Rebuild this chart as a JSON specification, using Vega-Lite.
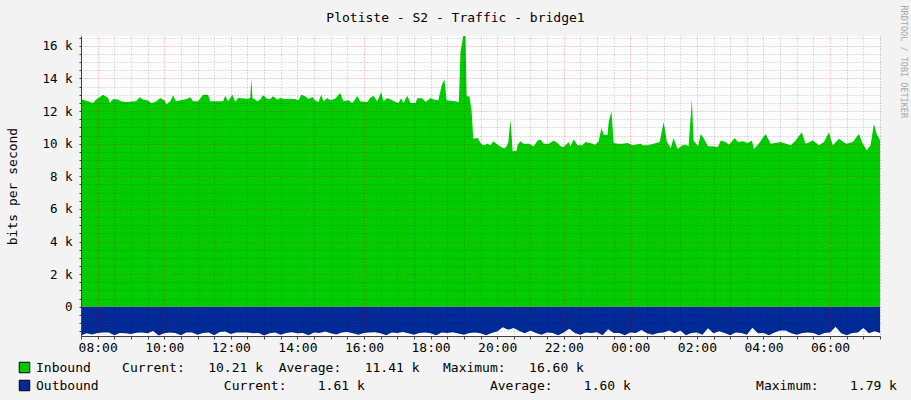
{
  "$schema": "https://vega.github.io/schema/vega-lite/v6.json",
  "width": 799,
  "height": 300,
  "autosize": {"type": "none"},
  "padding": {"left": 81, "top": 36, "right": 31, "bottom": 64},
  "background": "#F3F3F3",
  "title": {
    "text": "Plotiste - S2 - Traffic - bridge1",
    "font": "DejaVu Sans Mono",
    "fontSize": 13,
    "fontWeight": "normal",
    "color": "black",
    "anchor": "middle",
    "baseline": "bottom",
    "dx": -25,
    "dy": 47,
    "offset": 14
  },
  "datasets": {
    "inbound": [
      {"time": "2024-01-01T07:30", "value": 12.74},
      {"time": "2024-01-01T07:52", "value": 12.5},
      {"time": "2024-01-01T07:57", "value": 12.7},
      {"time": "2024-01-01T08:10", "value": 13.0},
      {"time": "2024-01-01T08:19", "value": 12.8},
      {"time": "2024-01-01T08:22", "value": 12.5},
      {"time": "2024-01-01T08:28", "value": 12.74},
      {"time": "2024-01-01T08:37", "value": 12.7},
      {"time": "2024-01-01T08:42", "value": 12.6},
      {"time": "2024-01-01T08:51", "value": 12.55},
      {"time": "2024-01-01T09:00", "value": 12.58},
      {"time": "2024-01-01T09:09", "value": 12.6},
      {"time": "2024-01-01T09:16", "value": 12.84},
      {"time": "2024-01-01T09:22", "value": 12.7},
      {"time": "2024-01-01T09:31", "value": 12.65},
      {"time": "2024-01-01T09:36", "value": 12.5},
      {"time": "2024-01-01T09:44", "value": 12.55},
      {"time": "2024-01-01T09:53", "value": 12.8},
      {"time": "2024-01-01T10:02", "value": 12.62},
      {"time": "2024-01-01T10:03", "value": 12.4},
      {"time": "2024-01-01T10:11", "value": 12.6},
      {"time": "2024-01-01T10:16", "value": 12.97},
      {"time": "2024-01-01T10:21", "value": 12.6},
      {"time": "2024-01-01T10:40", "value": 12.74},
      {"time": "2024-01-01T10:47", "value": 12.84},
      {"time": "2024-01-01T10:52", "value": 12.6},
      {"time": "2024-01-01T11:01", "value": 12.6},
      {"time": "2024-01-01T11:10", "value": 13.0},
      {"time": "2024-01-01T11:19", "value": 13.0},
      {"time": "2024-01-01T11:23", "value": 12.6},
      {"time": "2024-01-01T11:34", "value": 12.6},
      {"time": "2024-01-01T11:46", "value": 12.6},
      {"time": "2024-01-01T11:50", "value": 12.94},
      {"time": "2024-01-01T11:55", "value": 12.6},
      {"time": "2024-01-01T12:03", "value": 13.0},
      {"time": "2024-01-01T12:08", "value": 12.55},
      {"time": "2024-01-01T12:13", "value": 12.8},
      {"time": "2024-01-01T12:31", "value": 12.76},
      {"time": "2024-01-01T12:35", "value": 12.8},
      {"time": "2024-01-01T12:37", "value": 14.0},
      {"time": "2024-01-01T12:39", "value": 12.8},
      {"time": "2024-01-01T12:48", "value": 12.6},
      {"time": "2024-01-01T12:53", "value": 12.7},
      {"time": "2024-01-01T12:58", "value": 12.97},
      {"time": "2024-01-01T13:06", "value": 12.74},
      {"time": "2024-01-01T13:11", "value": 12.74},
      {"time": "2024-01-01T13:16", "value": 12.9},
      {"time": "2024-01-01T13:24", "value": 12.7},
      {"time": "2024-01-01T13:29", "value": 12.8},
      {"time": "2024-01-01T13:38", "value": 12.74},
      {"time": "2024-01-01T13:47", "value": 12.76},
      {"time": "2024-01-01T13:56", "value": 12.74},
      {"time": "2024-01-01T14:02", "value": 12.66},
      {"time": "2024-01-01T14:07", "value": 13.0},
      {"time": "2024-01-01T14:14", "value": 12.9},
      {"time": "2024-01-01T14:20", "value": 12.74},
      {"time": "2024-01-01T14:27", "value": 12.86},
      {"time": "2024-01-01T14:32", "value": 12.66},
      {"time": "2024-01-01T14:38", "value": 12.55},
      {"time": "2024-01-01T14:43", "value": 13.0},
      {"time": "2024-01-01T14:47", "value": 12.6},
      {"time": "2024-01-01T14:54", "value": 12.8},
      {"time": "2024-01-01T14:59", "value": 12.66},
      {"time": "2024-01-01T15:08", "value": 12.76},
      {"time": "2024-01-01T15:17", "value": 13.1},
      {"time": "2024-01-01T15:23", "value": 12.6},
      {"time": "2024-01-01T15:32", "value": 12.66},
      {"time": "2024-01-01T15:39", "value": 12.5},
      {"time": "2024-01-01T15:44", "value": 12.7},
      {"time": "2024-01-01T15:48", "value": 12.94},
      {"time": "2024-01-01T15:53", "value": 12.6},
      {"time": "2024-01-01T16:06", "value": 12.55},
      {"time": "2024-01-01T16:11", "value": 12.8},
      {"time": "2024-01-01T16:17", "value": 12.94},
      {"time": "2024-01-01T16:24", "value": 12.6},
      {"time": "2024-01-01T16:31", "value": 13.15},
      {"time": "2024-01-01T16:35", "value": 12.6},
      {"time": "2024-01-01T16:42", "value": 12.8},
      {"time": "2024-01-01T16:48", "value": 12.7},
      {"time": "2024-01-01T16:57", "value": 12.55},
      {"time": "2024-01-01T17:02", "value": 12.5},
      {"time": "2024-01-01T17:07", "value": 12.78},
      {"time": "2024-01-01T17:11", "value": 12.5},
      {"time": "2024-01-01T17:18", "value": 12.94},
      {"time": "2024-01-01T17:24", "value": 12.5},
      {"time": "2024-01-01T17:33", "value": 12.5},
      {"time": "2024-01-01T17:36", "value": 12.78},
      {"time": "2024-01-01T17:45", "value": 12.78},
      {"time": "2024-01-01T17:51", "value": 12.55},
      {"time": "2024-01-01T18:00", "value": 12.8},
      {"time": "2024-01-01T18:05", "value": 12.7},
      {"time": "2024-01-01T18:14", "value": 12.66},
      {"time": "2024-01-01T18:20", "value": 13.56},
      {"time": "2024-01-01T18:25", "value": 13.93},
      {"time": "2024-01-01T18:29", "value": 12.66},
      {"time": "2024-01-01T18:45", "value": 12.6},
      {"time": "2024-01-01T18:51", "value": 12.55},
      {"time": "2024-01-01T18:54", "value": 15.66},
      {"time": "2024-01-01T18:59", "value": 16.6},
      {"time": "2024-01-01T19:03", "value": 16.6},
      {"time": "2024-01-01T19:05", "value": 12.9},
      {"time": "2024-01-01T19:10", "value": 12.9},
      {"time": "2024-01-01T19:14", "value": 12.0},
      {"time": "2024-01-01T19:17", "value": 10.3},
      {"time": "2024-01-01T19:25", "value": 10.35},
      {"time": "2024-01-01T19:30", "value": 10.04},
      {"time": "2024-01-01T19:35", "value": 9.9},
      {"time": "2024-01-01T19:43", "value": 10.0},
      {"time": "2024-01-01T19:48", "value": 9.9},
      {"time": "2024-01-01T19:53", "value": 10.15},
      {"time": "2024-01-01T20:01", "value": 9.94},
      {"time": "2024-01-01T20:10", "value": 9.73},
      {"time": "2024-01-01T20:15", "value": 9.75},
      {"time": "2024-01-01T20:20", "value": 10.04},
      {"time": "2024-01-01T20:24", "value": 11.47},
      {"time": "2024-01-01T20:28", "value": 9.53},
      {"time": "2024-01-01T20:35", "value": 9.55},
      {"time": "2024-01-01T20:37", "value": 9.94},
      {"time": "2024-01-01T20:42", "value": 10.15},
      {"time": "2024-01-01T20:48", "value": 10.0},
      {"time": "2024-01-01T20:57", "value": 10.0},
      {"time": "2024-01-01T21:06", "value": 9.84},
      {"time": "2024-01-01T21:13", "value": 10.2},
      {"time": "2024-01-01T21:18", "value": 10.25},
      {"time": "2024-01-01T21:24", "value": 10.0},
      {"time": "2024-01-01T21:33", "value": 10.0},
      {"time": "2024-01-01T21:42", "value": 10.2},
      {"time": "2024-01-01T21:49", "value": 10.04},
      {"time": "2024-01-01T21:54", "value": 9.84},
      {"time": "2024-01-01T22:00", "value": 9.8},
      {"time": "2024-01-01T22:09", "value": 10.1},
      {"time": "2024-01-01T22:12", "value": 9.84},
      {"time": "2024-01-01T22:18", "value": 10.25},
      {"time": "2024-01-01T22:25", "value": 9.9},
      {"time": "2024-01-01T22:34", "value": 9.9},
      {"time": "2024-01-01T22:39", "value": 10.1},
      {"time": "2024-01-01T22:48", "value": 10.04},
      {"time": "2024-01-01T22:57", "value": 9.94},
      {"time": "2024-01-01T23:03", "value": 10.15},
      {"time": "2024-01-01T23:08", "value": 10.96},
      {"time": "2024-01-01T23:12", "value": 10.55},
      {"time": "2024-01-01T23:19", "value": 10.55},
      {"time": "2024-01-01T23:21", "value": 11.3},
      {"time": "2024-01-01T23:26", "value": 12.0},
      {"time": "2024-01-01T23:30", "value": 10.04},
      {"time": "2024-01-01T23:37", "value": 10.0},
      {"time": "2024-01-01T23:46", "value": 10.0},
      {"time": "2024-01-01T23:55", "value": 10.04},
      {"time": "2024-01-02T00:04", "value": 9.9},
      {"time": "2024-01-02T00:19", "value": 10.0},
      {"time": "2024-01-02T00:22", "value": 9.9},
      {"time": "2024-01-02T00:31", "value": 9.9},
      {"time": "2024-01-02T00:42", "value": 10.0},
      {"time": "2024-01-02T00:53", "value": 10.1},
      {"time": "2024-01-02T01:00", "value": 11.33},
      {"time": "2024-01-02T01:06", "value": 10.1},
      {"time": "2024-01-02T01:13", "value": 9.73},
      {"time": "2024-01-02T01:18", "value": 10.35},
      {"time": "2024-01-02T01:25", "value": 9.68},
      {"time": "2024-01-02T01:34", "value": 9.9},
      {"time": "2024-01-02T01:40", "value": 9.94},
      {"time": "2024-01-02T01:45", "value": 9.84},
      {"time": "2024-01-02T01:51", "value": 12.7},
      {"time": "2024-01-02T01:54", "value": 10.2},
      {"time": "2024-01-02T02:02", "value": 9.84},
      {"time": "2024-01-02T02:07", "value": 10.6},
      {"time": "2024-01-02T02:12", "value": 10.35},
      {"time": "2024-01-02T02:20", "value": 9.84},
      {"time": "2024-01-02T02:29", "value": 9.84},
      {"time": "2024-01-02T02:38", "value": 9.8},
      {"time": "2024-01-02T02:43", "value": 10.2},
      {"time": "2024-01-02T02:52", "value": 10.1},
      {"time": "2024-01-02T02:58", "value": 9.94},
      {"time": "2024-01-02T03:08", "value": 10.35},
      {"time": "2024-01-02T03:14", "value": 10.1},
      {"time": "2024-01-02T03:23", "value": 10.15},
      {"time": "2024-01-02T03:32", "value": 10.04},
      {"time": "2024-01-02T03:39", "value": 10.2},
      {"time": "2024-01-02T03:43", "value": 9.68},
      {"time": "2024-01-02T03:50", "value": 9.94},
      {"time": "2024-01-02T04:04", "value": 10.6},
      {"time": "2024-01-02T04:13", "value": 10.0},
      {"time": "2024-01-02T04:31", "value": 10.1},
      {"time": "2024-01-02T04:49", "value": 9.9},
      {"time": "2024-01-02T04:58", "value": 10.2},
      {"time": "2024-01-02T05:09", "value": 10.7},
      {"time": "2024-01-02T05:16", "value": 10.0},
      {"time": "2024-01-02T05:29", "value": 10.2},
      {"time": "2024-01-02T05:40", "value": 9.9},
      {"time": "2024-01-02T05:49", "value": 10.1},
      {"time": "2024-01-02T05:58", "value": 10.7},
      {"time": "2024-01-02T06:05", "value": 9.9},
      {"time": "2024-01-02T06:16", "value": 10.3},
      {"time": "2024-01-02T06:29", "value": 10.0},
      {"time": "2024-01-02T06:41", "value": 10.1},
      {"time": "2024-01-02T06:52", "value": 10.6},
      {"time": "2024-01-02T06:59", "value": 10.0},
      {"time": "2024-01-02T07:06", "value": 9.6},
      {"time": "2024-01-02T07:13", "value": 9.9},
      {"time": "2024-01-02T07:19", "value": 11.2},
      {"time": "2024-01-02T07:24", "value": 10.6},
      {"time": "2024-01-02T07:30", "value": 10.21}
    ],
    "outbound": [
      {"time": "2024-01-01T07:30", "value": -1.76},
      {"time": "2024-01-01T07:40", "value": -1.62},
      {"time": "2024-01-01T07:50", "value": -1.70},
      {"time": "2024-01-01T08:00", "value": -1.60},
      {"time": "2024-01-01T08:10", "value": -1.57},
      {"time": "2024-01-01T08:20", "value": -1.58},
      {"time": "2024-01-01T08:30", "value": -1.74},
      {"time": "2024-01-01T08:40", "value": -1.60},
      {"time": "2024-01-01T08:50", "value": -1.62},
      {"time": "2024-01-01T09:00", "value": -1.66},
      {"time": "2024-01-01T09:10", "value": -1.59},
      {"time": "2024-01-01T09:20", "value": -1.58},
      {"time": "2024-01-01T09:30", "value": -1.62},
      {"time": "2024-01-01T09:40", "value": -1.48},
      {"time": "2024-01-01T09:50", "value": -1.76},
      {"time": "2024-01-01T10:00", "value": -1.62},
      {"time": "2024-01-01T10:10", "value": -1.58},
      {"time": "2024-01-01T10:20", "value": -1.60},
      {"time": "2024-01-01T10:30", "value": -1.74},
      {"time": "2024-01-01T10:40", "value": -1.58},
      {"time": "2024-01-01T10:50", "value": -1.58},
      {"time": "2024-01-01T11:00", "value": -1.72},
      {"time": "2024-01-01T11:10", "value": -1.60},
      {"time": "2024-01-01T11:20", "value": -1.58},
      {"time": "2024-01-01T11:30", "value": -1.74},
      {"time": "2024-01-01T11:40", "value": -1.55},
      {"time": "2024-01-01T11:50", "value": -1.52},
      {"time": "2024-01-01T12:00", "value": -1.66},
      {"time": "2024-01-01T12:10", "value": -1.58},
      {"time": "2024-01-01T12:20", "value": -1.58},
      {"time": "2024-01-01T12:30", "value": -1.57},
      {"time": "2024-01-01T12:40", "value": -1.62},
      {"time": "2024-01-01T12:50", "value": -1.60},
      {"time": "2024-01-01T13:00", "value": -1.76},
      {"time": "2024-01-01T13:10", "value": -1.62},
      {"time": "2024-01-01T13:20", "value": -1.58},
      {"time": "2024-01-01T13:30", "value": -1.72},
      {"time": "2024-01-01T13:40", "value": -1.60},
      {"time": "2024-01-01T13:50", "value": -1.56},
      {"time": "2024-01-01T14:00", "value": -1.62},
      {"time": "2024-01-01T14:10", "value": -1.60},
      {"time": "2024-01-01T14:20", "value": -1.74},
      {"time": "2024-01-01T14:30", "value": -1.58},
      {"time": "2024-01-01T14:40", "value": -1.60},
      {"time": "2024-01-01T14:50", "value": -1.52},
      {"time": "2024-01-01T15:00", "value": -1.62},
      {"time": "2024-01-01T15:10", "value": -1.70},
      {"time": "2024-01-01T15:20", "value": -1.58},
      {"time": "2024-01-01T15:30", "value": -1.54},
      {"time": "2024-01-01T15:40", "value": -1.62},
      {"time": "2024-01-01T15:50", "value": -1.72},
      {"time": "2024-01-01T16:00", "value": -1.60},
      {"time": "2024-01-01T16:10", "value": -1.58},
      {"time": "2024-01-01T16:20", "value": -1.56},
      {"time": "2024-01-01T16:30", "value": -1.62},
      {"time": "2024-01-01T16:40", "value": -1.74},
      {"time": "2024-01-01T16:50", "value": -1.58},
      {"time": "2024-01-01T17:00", "value": -1.60},
      {"time": "2024-01-01T17:10", "value": -1.55},
      {"time": "2024-01-01T17:20", "value": -1.62},
      {"time": "2024-01-01T17:30", "value": -1.72},
      {"time": "2024-01-01T17:40", "value": -1.60},
      {"time": "2024-01-01T17:50", "value": -1.57},
      {"time": "2024-01-01T18:00", "value": -1.62},
      {"time": "2024-01-01T18:10", "value": -1.74},
      {"time": "2024-01-01T18:20", "value": -1.58},
      {"time": "2024-01-01T18:30", "value": -1.60},
      {"time": "2024-01-01T18:40", "value": -1.56},
      {"time": "2024-01-01T18:50", "value": -1.64},
      {"time": "2024-01-01T19:00", "value": -1.72},
      {"time": "2024-01-01T19:10", "value": -1.60},
      {"time": "2024-01-01T19:20", "value": -1.58},
      {"time": "2024-01-01T19:30", "value": -1.62},
      {"time": "2024-01-01T19:40", "value": -1.74},
      {"time": "2024-01-01T19:50", "value": -1.60},
      {"time": "2024-01-01T20:00", "value": -1.52},
      {"time": "2024-01-01T20:10", "value": -1.25},
      {"time": "2024-01-01T20:20", "value": -1.40},
      {"time": "2024-01-01T20:30", "value": -1.30},
      {"time": "2024-01-01T20:40", "value": -1.48},
      {"time": "2024-01-01T20:50", "value": -1.62},
      {"time": "2024-01-01T21:00", "value": -1.45},
      {"time": "2024-01-01T21:10", "value": -1.60},
      {"time": "2024-01-01T21:20", "value": -1.72},
      {"time": "2024-01-01T21:30", "value": -1.58},
      {"time": "2024-01-01T21:40", "value": -1.60},
      {"time": "2024-01-01T21:50", "value": -1.74},
      {"time": "2024-01-01T22:00", "value": -1.58},
      {"time": "2024-01-01T22:10", "value": -1.35},
      {"time": "2024-01-01T22:20", "value": -1.60},
      {"time": "2024-01-01T22:30", "value": -1.72},
      {"time": "2024-01-01T22:40", "value": -1.58},
      {"time": "2024-01-01T22:50", "value": -1.60},
      {"time": "2024-01-01T23:00", "value": -1.56},
      {"time": "2024-01-01T23:10", "value": -1.74},
      {"time": "2024-01-01T23:20", "value": -1.38},
      {"time": "2024-01-01T23:30", "value": -1.60},
      {"time": "2024-01-01T23:40", "value": -1.60},
      {"time": "2024-01-01T23:50", "value": -1.74},
      {"time": "2024-01-02T00:00", "value": -1.58},
      {"time": "2024-01-02T00:10", "value": -1.60},
      {"time": "2024-01-02T00:20", "value": -1.42},
      {"time": "2024-01-02T00:30", "value": -1.62},
      {"time": "2024-01-02T00:40", "value": -1.72},
      {"time": "2024-01-02T00:50", "value": -1.60},
      {"time": "2024-01-02T01:00", "value": -1.58},
      {"time": "2024-01-02T01:10", "value": -1.45},
      {"time": "2024-01-02T01:20", "value": -1.62},
      {"time": "2024-01-02T01:30", "value": -1.45},
      {"time": "2024-01-02T01:40", "value": -1.74},
      {"time": "2024-01-02T01:50", "value": -1.60},
      {"time": "2024-01-02T02:00", "value": -1.58},
      {"time": "2024-01-02T02:10", "value": -1.72},
      {"time": "2024-01-02T02:20", "value": -1.32},
      {"time": "2024-01-02T02:30", "value": -1.62},
      {"time": "2024-01-02T02:40", "value": -1.50},
      {"time": "2024-01-02T02:50", "value": -1.60},
      {"time": "2024-01-02T03:00", "value": -1.74},
      {"time": "2024-01-02T03:10", "value": -1.58},
      {"time": "2024-01-02T03:20", "value": -1.60},
      {"time": "2024-01-02T03:30", "value": -1.72},
      {"time": "2024-01-02T03:40", "value": -1.28},
      {"time": "2024-01-02T03:50", "value": -1.62},
      {"time": "2024-01-02T04:00", "value": -1.60},
      {"time": "2024-01-02T04:10", "value": -1.74},
      {"time": "2024-01-02T04:20", "value": -1.58},
      {"time": "2024-01-02T04:30", "value": -1.45},
      {"time": "2024-01-02T04:40", "value": -1.45},
      {"time": "2024-01-02T04:50", "value": -1.62},
      {"time": "2024-01-02T05:00", "value": -1.72},
      {"time": "2024-01-02T05:10", "value": -1.60},
      {"time": "2024-01-02T05:20", "value": -1.58},
      {"time": "2024-01-02T05:30", "value": -1.60},
      {"time": "2024-01-02T05:40", "value": -1.74},
      {"time": "2024-01-02T05:50", "value": -1.60},
      {"time": "2024-01-02T06:00", "value": -1.58},
      {"time": "2024-01-02T06:10", "value": -1.22},
      {"time": "2024-01-02T06:20", "value": -1.62},
      {"time": "2024-01-02T06:30", "value": -1.74},
      {"time": "2024-01-02T06:40", "value": -1.60},
      {"time": "2024-01-02T06:50", "value": -1.58},
      {"time": "2024-01-02T07:00", "value": -1.30},
      {"time": "2024-01-02T07:10", "value": -1.62},
      {"time": "2024-01-02T07:20", "value": -1.50},
      {"time": "2024-01-02T07:30", "value": -1.61}
    ]
  },
  "layer": [
    {
      "data": {"name": "inbound"},
      "mark": {"type": "area", "interpolate": "linear", "opacity": 1},
      "encoding": {
        "x": {
          "field": "time",
          "type": "temporal",
          "scale": {
            "domain": [
              {"year": 2024, "month": 1, "date": 1, "hours": 7, "minutes": 30},
              {"year": 2024, "month": 1, "date": 2, "hours": 7, "minutes": 30}
            ],
            "nice": false
          },
          "axis": {
            "title": null,
            "tickCount": 48,
            "grid": true,
            "gridDash": [1, 2],
            "gridColor": {
              "condition": {"test": "minutes(datum.value) == 0 && hours(datum.value) % 2 == 0", "value": "rgba(255,0,0,0.4)"},
              "value": "rgba(0,0,0,0.25)"
            },
            "labelExpr": "minutes(datum.value) == 0 && hours(datum.value) % 2 == 0 ? timeFormat(datum.value, '%H:%M') : ''",
            "labelOverlap": false,
            "labelFlush": false,
            "labelFont": "DejaVu Sans Mono",
            "labelFontSize": 13,
            "labelColor": "black",
            "labelPadding": 2,
            "tickSize": 3,
            "tickColor": "#404040",
            "domainColor": "#404040",
            "zindex": 1
          }
        },
        "y": {
          "field": "value",
          "type": "quantitative",
          "scale": {"domain": [-1.79, 16.6], "nice": false, "zero": false},
          "axis": {
            "title": "bits per second",
            "titleFont": "DejaVu Sans Mono",
            "titleFontSize": 13,
            "titleFontWeight": "normal",
            "titleColor": "black",
            "titlePadding": 22,
            "values": [-1.5, -1, -0.5, 0, 0.5, 1, 1.5, 2, 2.5, 3, 3.5, 4, 4.5, 5, 5.5, 6, 6.5, 7, 7.5, 8, 8.5, 9, 9.5, 10, 10.5, 11, 11.5, 12, 12.5, 13, 13.5, 14, 14.5, 15, 15.5, 16, 16.5],
            "grid": true,
            "gridDash": [1, 2],
            "gridColor": {
              "condition": {"test": "datum.value % 2 == 0", "value": "rgba(255,0,0,0.4)"},
              "value": "rgba(0,0,0,0.25)"
            },
            "labelExpr": "datum.value >= 0 && datum.value % 2 == 0 ? (datum.value == 0 ? '0  ' : datum.value + ' k') : ''",
            "labelOverlap": false,
            "labelFlush": false,
            "labelFont": "DejaVu Sans Mono",
            "labelFontSize": 12.5,
            "labelColor": "black",
            "labelPadding": 7,
            "tickSize": 2,
            "tickColor": "#404040",
            "domainColor": "#404040",
            "zindex": 1
          }
        },
        "y2": {"datum": 0},
        "color": {
          "datum": "Inbound",
          "scale": {"domain": ["Inbound", "Outbound"], "range": ["#00CC00", "#002A97"]},
          "legend": {
            "title": null,
            "orient": "none",
            "legendX": -63,
            "legendY": 325,
            "direction": "vertical",
            "padding": 0,
            "symbolType": "square",
            "symbolSize": 110,
            "symbolStrokeColor": "black",
            "symbolStrokeWidth": 1,
            "symbolOpacity": 1,
            "labelFont": "DejaVu Sans Mono",
            "labelFontSize": 13,
            "labelColor": "black",
            "labelLimit": 1200,
            "labelOffset": 5,
            "rowPadding": 3,
            "labelExpr": "datum.label == 'Inbound' ? 'Inbound\u00a0\u00a0\u00a0\u00a0Current:\u00a0\u00a0\u00a010.21\u00a0k\u00a0\u00a0Average:\u00a0\u00a0\u00a011.41\u00a0k\u00a0\u00a0\u00a0Maximum:\u00a0\u00a0\u00a016.60\u00a0k' : 'Outbound\u00a0\u00a0\u00a0\u00a0\u00a0\u00a0\u00a0\u00a0\u00a0\u00a0\u00a0\u00a0\u00a0\u00a0\u00a0\u00a0Current:\u00a0\u00a0\u00a0\u00a01.61\u00a0k\u00a0\u00a0\u00a0\u00a0\u00a0\u00a0\u00a0\u00a0\u00a0\u00a0\u00a0\u00a0\u00a0\u00a0\u00a0\u00a0Average:\u00a0\u00a0\u00a0\u00a01.60\u00a0k\u00a0\u00a0\u00a0\u00a0\u00a0\u00a0\u00a0\u00a0\u00a0\u00a0\u00a0\u00a0\u00a0\u00a0\u00a0\u00a0Maximum:\u00a0\u00a0\u00a0\u00a01.79\u00a0k'"
          }
        }
      }
    },
    {
      "data": {"name": "outbound"},
      "mark": {"type": "area", "interpolate": "linear", "opacity": 1},
      "encoding": {
        "x": {
          "field": "time",
          "type": "temporal",
          "scale": {
            "domain": [
              {"year": 2024, "month": 1, "date": 1, "hours": 7, "minutes": 30},
              {"year": 2024, "month": 1, "date": 2, "hours": 7, "minutes": 30}
            ],
            "nice": false
          }
        },
        "y": {
          "field": "value",
          "type": "quantitative",
          "scale": {"domain": [-1.79, 16.6], "nice": false, "zero": false},
          "axis": {
            "orient": "right",
            "title": "RRDTOOL / TOBI OETIKER",
            "labels": false,
            "ticks": false,
            "domain": false,
            "grid": false,
            "titleAngle": 90,
            "titleX": 23,
            "titleY": -31,
            "titleAlign": "left",
            "titleBaseline": "middle",
            "titleFont": "DejaVu Sans Mono",
            "titleFontSize": 8.5,
            "titleFontWeight": "normal",
            "titleColor": "#A8A8A8"
          }
        },
        "y2": {"datum": 0},
        "color": {"datum": "Outbound"}
      }
    }
  ],
  "resolve": {"axis": {"y": "independent"}},
  "config": {
    "font": "DejaVu Sans Mono",
    "view": {"fill": "white", "stroke": null}
  }
}
